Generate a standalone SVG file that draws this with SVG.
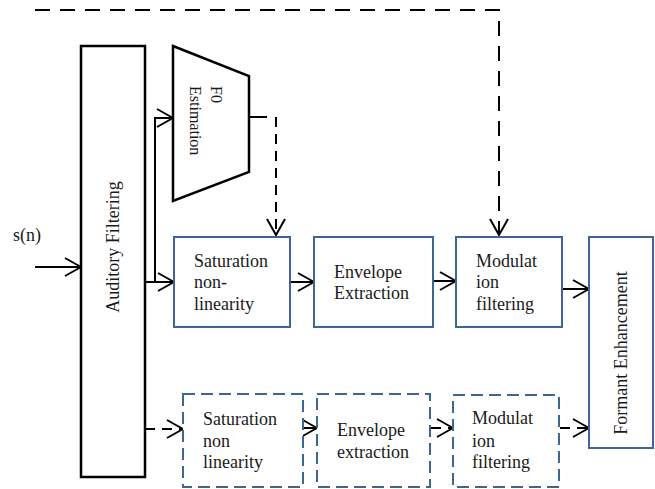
<svg xmlns="http://www.w3.org/2000/svg" width="655" height="489" viewBox="0 0 655 489">
<defs>
<marker id="ah" viewBox="0 0 18 22" refX="17" refY="11" markerWidth="18" markerHeight="22" markerUnits="userSpaceOnUse" orient="auto">
<path d="M1,2 L17,11 L1,20" fill="none" stroke="#000" stroke-width="2"/>
</marker>
<style>
.t{font-family:"Liberation Serif","Times New Roman",serif;font-size:18px;fill:#1a1a1a}
.bk{fill:#fff;stroke:#000;stroke-width:2.5}
.bl{fill:#fff;stroke:#3d6596;stroke-width:2}
.bd{fill:#fff;stroke:#3d6596;stroke-width:2;stroke-dasharray:12,6}
.c{fill:none;stroke:#000;stroke-width:2}
.cd{fill:none;stroke:#000;stroke-width:2;stroke-dasharray:15,10}
.cs{fill:none;stroke:#000;stroke-width:2;stroke-dasharray:10,7}
</style>
</defs>
<rect width="655" height="489" fill="#fff"/>
<g id="connectors">
<path class="cd" d="M35,10 H499 V235" marker-end="url(#ah)"/>
<path class="c" d="M35,267 H81" marker-end="url(#ah)"/>
<path class="c" d="M145,282 H174" marker-end="url(#ah)"/>
<path class="c" d="M155,282 V118 H173" marker-end="url(#ah)"/>
<path class="c" d="M249,117 H267"/>
<path class="cs" d="M276,117 V235" marker-end="url(#ah)"/>
<path class="c" d="M290,282 H314" marker-end="url(#ah)"/>
<path class="c" d="M433,281 H456" marker-end="url(#ah)"/>
<path class="c" d="M562,289 H589" marker-end="url(#ah)"/>
<path class="cs" d="M145,429 H183" marker-end="url(#ah)"/>
<path class="c" d="M304,428 H317" marker-end="url(#ah)"/>
<path class="cs" d="M431,428 H453" marker-end="url(#ah)"/>
<path class="cs" d="M560,428 H589" marker-end="url(#ah)"/>
</g>
<g id="sn"><text class="t" x="13" y="241">s(n)</text></g>
<g id="auditory">
<rect class="bk" x="81" y="46" width="64" height="431"/>
<text class="t" transform="translate(119,247) rotate(-90)" text-anchor="middle">Auditory Filtering</text>
</g>
<g id="f0">
<path class="bk" d="M173,46 L249,76 L249,172 L173,201 Z"/>
<text class="t" style="font-size:16px" transform="translate(211,86) rotate(90)">F0</text>
<text class="t" style="font-size:16px" transform="translate(190,86) rotate(90)">Estimation</text>
</g>
<g id="sat1">
<rect class="bl" x="174" y="237" width="116" height="90"/>
<text class="t" x="194" y="267">Saturation</text>
<text class="t" x="194" y="288">non-</text>
<text class="t" x="194" y="310">linearity</text>
</g>
<g id="env1">
<rect class="bl" x="314" y="237" width="119" height="90"/>
<text class="t" x="334" y="278">Envelope</text>
<text class="t" x="334" y="299">Extraction</text>
</g>
<g id="mod1">
<rect class="bl" x="456" y="237" width="106" height="90"/>
<text class="t" x="476" y="267">Modulat</text>
<text class="t" x="476" y="288">ion</text>
<text class="t" x="476" y="310">filtering</text>
</g>
<g id="formant">
<rect class="bl" x="589" y="237" width="64" height="211"/>
<text class="t" transform="translate(627,353) rotate(-90)" text-anchor="middle">Formant Enhancement</text>
</g>
<g id="sat2">
<rect class="bd" x="183" y="394" width="120" height="93"/>
<text class="t" x="203" y="425">Saturation</text>
<text class="t" x="203" y="447">non</text>
<text class="t" x="203" y="468">linearity</text>
</g>
<g id="env2">
<rect class="bd" x="317" y="394" width="113" height="93"/>
<text class="t" x="337" y="436">Envelope</text>
<text class="t" x="337" y="458">extraction</text>
</g>
<g id="mod2">
<rect class="bd" x="453" y="395" width="106" height="92"/>
<text class="t" x="472" y="424">Modulat</text>
<text class="t" x="472" y="447">ion</text>
<text class="t" x="472" y="468">filtering</text>
</g>
</svg>
